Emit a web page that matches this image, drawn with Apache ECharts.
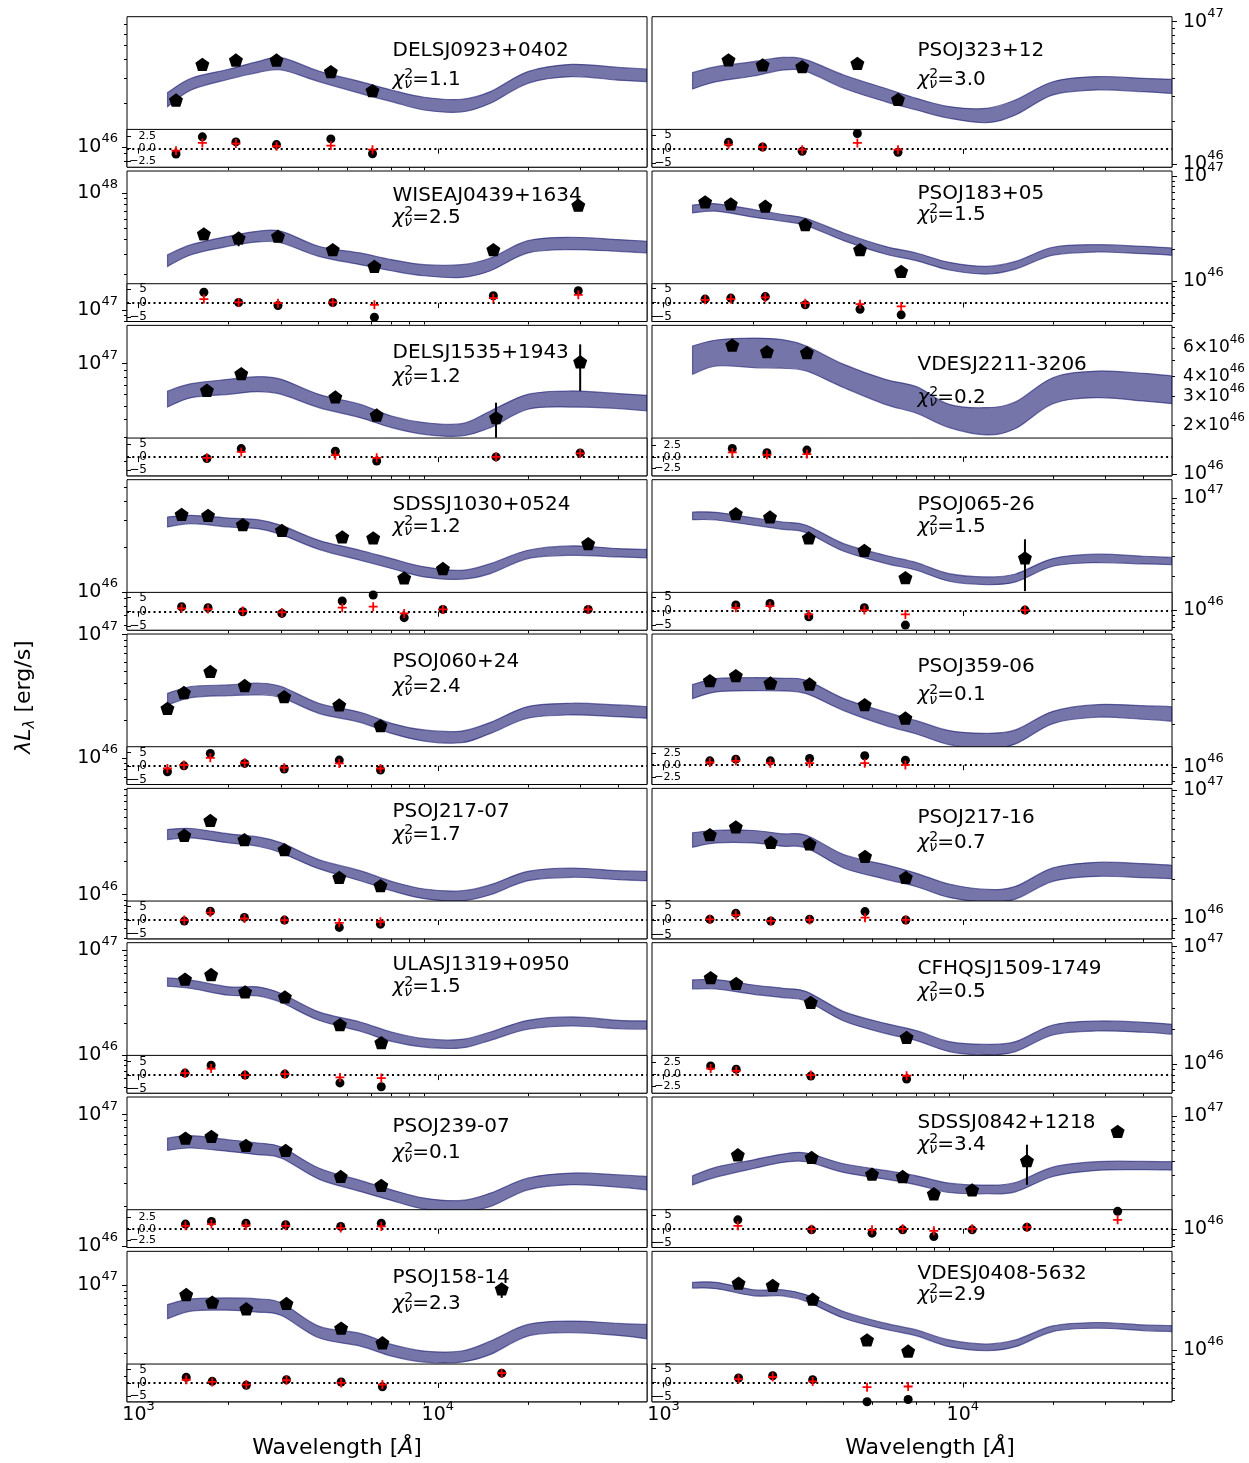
<!DOCTYPE html>
<html><head><meta charset="utf-8">
<script src="https://cdn.jsdelivr.net/npm/echarts@6/dist/echarts.min.js"></script>
<style>html,body{margin:0;padding:0;background:#fff}#c{width:1249px;height:1463px}</style>
</head><body><div id="c"></div>
<script>
// ---------------- DATA (log10 of lambda*L_lambda in erg/s; wavelengths in Angstrom) ----------------
const bandWave = [1250, 1500, 2000, 2500, 3000, 4000, 5500, 7000, 9000, 12000, 15000, 20000, 28000, 40000, 50000];

const DELSJ0923_bandHi = [46.375, 46.474, 46.536, 46.589, 46.616, 46.524, 46.451, 46.393, 46.343, 46.329, 46.382, 46.520, 46.570, 46.549, 46.538];
const DELSJ0923_bandLo = [46.278, 46.393, 46.467, 46.513, 46.531, 46.451, 46.370, 46.313, 46.255, 46.241, 46.301, 46.439, 46.485, 46.461, 46.451];
const DELSJ0923_wave = [1334, 1634, 2115, 2890, 4391, 6050];
const DELSJ0923_logL = [46.324, 46.570, 46.600, 46.600, 46.520, 46.389];
const DELSJ0923_errLo = [46.29, null, 46.56, null, null, null];
const DELSJ0923_errHi = [46.36, null, 46.64, null, null, null];
const DELSJ0923_resid = [-1.1, 2.43, 1.39, 0.83, 2.0, -1.04];
const DELSJ0923_model = [-0.42, 1.18, 1.04, 0.49, 0.63, -0.21];

const PSOJ323_bandHi = [46.642, 46.684, 46.719, 46.749, 46.731, 46.625, 46.532, 46.461, 46.403, 46.391, 46.450, 46.578, 46.614, 46.602, 46.595];
const PSOJ323_bandLo = [46.527, 46.578, 46.618, 46.660, 46.649, 46.532, 46.438, 46.379, 46.321, 46.290, 46.344, 46.485, 46.520, 46.508, 46.496];
const PSOJ323_wave = [1648, 2143, 2906, 4443, 6073];
const PSOJ323_logL = [46.731, 46.696, 46.684, 46.707, 46.454];
const PSOJ323_resid = [2.4, 0.7, -0.85, 5.6, -1.2];
const PSOJ323_model = [1.6, 0.7, -0.25, 2.2, -0.25];

const WISEAJ0439_bandHi = [47.471, 47.557, 47.629, 47.671, 47.671, 47.543, 47.486, 47.429, 47.386, 47.386, 47.443, 47.591, 47.620, 47.600, 47.586];
const WISEAJ0439_bandLo = [47.371, 47.471, 47.543, 47.580, 47.571, 47.457, 47.386, 47.334, 47.291, 47.277, 47.334, 47.486, 47.514, 47.500, 47.486];
const WISEAJ0439_wave = [1653, 2160, 2924, 4456, 6139, 15330, 29470];
const WISEAJ0439_logL = [47.649, 47.614, 47.629, 47.514, 47.371, 47.514, 47.894];
const WISEAJ0439_errLo = [null, 47.543, null, null, null, null, 47.843];
const WISEAJ0439_errHi = [null, 47.657, null, null, null, null, 47.929];
const WISEAJ0439_resid = [3.9, 0.24, -0.84, 0.24, -5.1, 2.65, 4.5];
const WISEAJ0439_model = [1.45, 0.24, 0, 0.24, -0.6, 1.8, 3.0];

const PSOJ183_bandHi = [46.724, 46.737, 46.683, 46.635, 46.597, 46.460, 46.333, 46.270, 46.181, 46.143, 46.190, 46.324, 46.349, 46.333, 46.317];
const PSOJ183_bandLo = [46.651, 46.667, 46.610, 46.571, 46.530, 46.387, 46.260, 46.197, 46.108, 46.070, 46.117, 46.248, 46.279, 46.263, 46.248];
const PSOJ183_wave = [1377, 1678, 2188, 2976, 4535, 6224];
const PSOJ183_logL = [46.756, 46.737, 46.714, 46.540, 46.302, 46.095];
const PSOJ183_resid = [1.2, 1.55, 2.1, -0.83, -2.4, -4.4];
const PSOJ183_model = [0.95, 1.2, 1.8, -0.24, -0.6, -1.4];

const DELSJ1535_bandHi = [46.805, 46.857, 46.888, 46.907, 46.888, 46.781, 46.710, 46.626, 46.579, 46.571, 46.662, 46.781, 46.805, 46.786, 46.774];
const DELSJ1535_bandLo = [46.690, 46.757, 46.781, 46.800, 46.781, 46.686, 46.614, 46.543, 46.495, 46.483, 46.543, 46.674, 46.690, 46.679, 46.662];
const DELSJ1535_wave = [1692, 2204, 4546, 6248, 15650, 29900];
const DELSJ1535_logL = [46.810, 46.929, 46.762, 46.633, 46.614, 47.014];
const DELSJ1535_errLo = [null, null, null, null, 46.471, 46.805];
const DELSJ1535_errHi = [null, null, null, null, 46.721, 47.138];
const DELSJ1535_resid = [-0.5, 3.25, 2.25, -1.5, 0.1, 1.6];
const DELSJ1535_model = [-0.25, 2.0, 0.75, -0.25, 0.1, 1.4];

const VDESJ2211_bandHi = [46.789, 46.826, 46.838, 46.828, 46.789, 46.676, 46.584, 46.539, 46.430, 46.410, 46.445, 46.594, 46.635, 46.621, 46.605];
const VDESJ2211_bandLo = [46.615, 46.666, 46.656, 46.652, 46.635, 46.533, 46.430, 46.375, 46.287, 46.242, 46.281, 46.434, 46.471, 46.451, 46.434];
const VDESJ2211_wave = [1697, 2215, 3013];
const VDESJ2211_logL = [46.795, 46.754, 46.748];
const VDESJ2211_resid = [1.87, 0.9, 1.5];
const VDESJ2211_model = [0.97, 0.45, 0.6];

const SDSSJ1030_bandHi = [46.500, 46.511, 46.493, 46.482, 46.444, 46.344, 46.278, 46.222, 46.167, 46.144, 46.189, 46.278, 46.307, 46.289, 46.284];
const SDSSJ1030_bandLo = [46.433, 46.456, 46.433, 46.422, 46.382, 46.284, 46.211, 46.156, 46.100, 46.084, 46.122, 46.222, 46.244, 46.233, 46.227];
const SDSSJ1030_wave = [1393, 1707, 2230, 3013, 4793, 6083, 7720, 10400, 31800];
const SDSSJ1030_logL = [46.518, 46.511, 46.449, 46.411, 46.367, 46.360, 46.093, 46.156, 46.322];
const SDSSJ1030_errLo = [null, null, null, null, null, null, 46.06, null, 46.29];
const SDSSJ1030_errHi = [null, null, null, null, null, null, 46.12, null, 46.35];
const SDSSJ1030_resid = [1.76, 1.41, 0, -0.59, 3.76, 5.9, -2.1, 0.8, 0.8];
const SDSSJ1030_model = [1.18, 0.94, 0.24, -0.24, 1.41, 1.76, -0.59, 0.8, 0.8];

const PSOJ065_bandHi = [46.875, 46.872, 46.822, 46.786, 46.757, 46.593, 46.490, 46.424, 46.326, 46.297, 46.323, 46.460, 46.499, 46.481, 46.472];
const PSOJ065_bandLo = [46.807, 46.804, 46.757, 46.721, 46.691, 46.525, 46.418, 46.356, 46.258, 46.228, 46.252, 46.392, 46.424, 46.412, 46.407];
const PSOJ065_wave = [1744, 2268, 3057, 4688, 6429, 16130];
const PSOJ065_logL = [46.861, 46.831, 46.644, 46.534, 46.291, 46.466];
const PSOJ065_errLo = [null, null, null, null, null, 46.17];
const PSOJ065_errHi = [null, null, null, null, null, 46.632];
const PSOJ065_resid = [2.2, 2.8, -2.1, 1.2, -5.1, 0.37];
const PSOJ065_model = [1.2, 1.8, -1.2, 0.37, -1.2, 0.37];

const PSOJ060_bandHi = [46.524, 46.579, 46.592, 46.606, 46.579, 46.443, 46.370, 46.280, 46.226, 46.217, 46.288, 46.416, 46.443, 46.429, 46.416];
const PSOJ060_bandLo = [46.429, 46.489, 46.505, 46.511, 46.489, 46.361, 46.288, 46.198, 46.136, 46.122, 46.198, 46.321, 46.348, 46.334, 46.321];
const PSOJ060_wave = [1249, 1418, 1737, 2263, 3067, 4685, 6433];
const PSOJ060_logL = [46.402, 46.530, 46.701, 46.587, 46.497, 46.429, 46.261];
const PSOJ060_resid = [-2.1, 0.1, 4.75, 1.0, -1.1, 2.25, -1.5];
const PSOJ060_model = [-0.9, 0.4, 3.1, 1.25, -0.6, 1.0, -0.9];

const PSOJ359_bandHi = [46.584, 46.626, 46.633, 46.628, 46.614, 46.485, 46.391, 46.329, 46.259, 46.240, 46.264, 46.395, 46.442, 46.435, 46.428];
const PSOJ359_bandLo = [46.485, 46.532, 46.541, 46.539, 46.520, 46.400, 46.296, 46.235, 46.160, 46.132, 46.165, 46.308, 46.353, 46.339, 46.325];
const PSOJ359_wave = [1428, 1744, 2275, 3076, 4701, 6429];
const PSOJ359_logL = [46.612, 46.647, 46.595, 46.588, 46.442, 46.348];
const PSOJ359_errLo = [46.57, null, null, null, null, null];
const PSOJ359_errHi = [46.65, null, null, null, null, null];
const PSOJ359_resid = [0.9, 1.25, 0.9, 1.4, 1.94, 1.04];
const PSOJ359_model = [0.56, 0.9, 0.42, 0.42, 0.42, 0.07];

const PSOJ217m07_bandHi = [46.591, 46.600, 46.552, 46.524, 46.470, 46.318, 46.218, 46.121, 46.052, 46.036, 46.091, 46.212, 46.242, 46.218, 46.212];
const PSOJ217m07_bandLo = [46.500, 46.515, 46.470, 46.439, 46.379, 46.236, 46.127, 46.036, 45.964, 45.945, 46.000, 46.127, 46.158, 46.136, 46.127];
const PSOJ217m07_wave = [1422, 1737, 2258, 3074, 4685, 6433];
const PSOJ217m07_logL = [46.539, 46.673, 46.500, 46.409, 46.158, 46.082];
const PSOJ217m07_errLo = [null, null, null, 46.37, null, null];
const PSOJ217m07_errHi = [null, null, null, 46.45, null, null];
const PSOJ217m07_resid = [-0.37, 3.3, 1.0, 0, -2.7, -1.5];
const PSOJ217m07_model = [0, 2.8, 0.6, 0, -1.0, -0.6];

const PSOJ217m16_bandHi = [46.668, 46.688, 46.686, 46.660, 46.649, 46.497, 46.419, 46.351, 46.267, 46.225, 46.249, 46.393, 46.437, 46.427, 46.414];
const PSOJ217m16_bandLo = [46.555, 46.589, 46.589, 46.563, 46.550, 46.393, 46.306, 46.246, 46.162, 46.126, 46.149, 46.288, 46.327, 46.317, 46.309];
const PSOJ217m16_wave = [1428, 1744, 2283, 3076, 4713, 6449];
const PSOJ217m16_logL = [46.654, 46.715, 46.594, 46.581, 46.484, 46.319];
const PSOJ217m16_resid = [0.23, 2.3, -0.35, 0.23, 2.9, 0];
const PSOJ217m16_model = [0.23, 1.7, -0.35, 0, 0.8, 0];

const ULASJ1319_bandHi = [46.737, 46.714, 46.651, 46.651, 46.587, 46.413, 46.317, 46.222, 46.159, 46.152, 46.222, 46.333, 46.365, 46.333, 46.327];
const ULASJ1319_bandLo = [46.657, 46.635, 46.571, 46.565, 46.502, 46.333, 46.229, 46.133, 46.079, 46.070, 46.143, 46.248, 46.279, 46.254, 46.248];
const ULASJ1319_wave = [1430, 1748, 2270, 3083, 4709, 6473];
const ULASJ1319_logL = [46.724, 46.768, 46.603, 46.556, 46.292, 46.121];
const ULASJ1319_resid = [0.73, 3.66, 0, 0.37, -2.9, -4.3];
const ULASJ1319_model = [0.73, 2.4, 0, 0.37, -0.85, -1.1];

const CFHQSJ1509_bandHi = [46.717, 46.720, 46.674, 46.646, 46.618, 46.448, 46.348, 46.286, 46.193, 46.170, 46.193, 46.334, 46.368, 46.357, 46.340];
const CFHQSJ1509_bandLo = [46.640, 46.640, 46.595, 46.567, 46.538, 46.368, 46.263, 46.201, 46.108, 46.079, 46.108, 46.249, 46.283, 46.272, 46.255];
const CFHQSJ1509_wave = [1437, 1749, 3105, 6489];
const CFHQSJ1509_logL = [46.737, 46.688, 46.527, 46.229];
const CFHQSJ1509_resid = [1.78, 1.1, -0.34, -0.96];
const CFHQSJ1509_model = [1.23, 0.75, -0.14, -0.27];

const PSOJ239_bandHi = [46.822, 46.840, 46.809, 46.784, 46.753, 46.593, 46.499, 46.427, 46.364, 46.346, 46.402, 46.517, 46.555, 46.542, 46.529];
const PSOJ239_bandLo = [46.728, 46.746, 46.720, 46.695, 46.669, 46.509, 46.415, 46.346, 46.280, 46.262, 46.300, 46.427, 46.466, 46.448, 46.427];
const PSOJ239_wave = [1435, 1752, 2285, 3102, 4738, 6473];
const PSOJ239_logL = [46.822, 46.835, 46.766, 46.728, 46.529, 46.461];
const PSOJ239_resid = [1.0, 1.57, 1.2, 0.86, 0.5, 1.2];
const PSOJ239_model = [0.64, 1.0, 0.7, 0.64, 0.14, 0.5];

const SDSSJ0842_bandHi = [46.473, 46.550, 46.615, 46.666, 46.675, 46.580, 46.521, 46.473, 46.408, 46.391, 46.414, 46.550, 46.598, 46.601, 46.598];
const SDSSJ0842_bandLo = [46.393, 46.462, 46.538, 46.592, 46.598, 46.503, 46.444, 46.393, 46.325, 46.314, 46.331, 46.467, 46.521, 46.527, 46.524];
const SDSSJ0842_wave = [1771, 3124, 4973, 6295, 8000, 10745, 16380, 32910];
const SDSSJ0842_logL = [46.660, 46.636, 46.488, 46.467, 46.314, 46.349, 46.607, 46.867];
const SDSSJ0842_errLo = [null, null, null, null, null, null, 46.393, null];
const SDSSJ0842_errHi = [null, null, null, null, null, null, 46.749, null];
const SDSSJ0842_resid = [3.25, -0.36, -1.57, -0.36, -2.77, -0.36, 0.6, 6.3];
const SDSSJ0842_model = [1.08, -0.12, -0.36, 0, -0.72, 0, 0.6, 3.25];

const PSOJ158_bandHi = [46.854, 46.897, 46.905, 46.897, 46.867, 46.687, 46.631, 46.546, 46.495, 46.495, 46.572, 46.700, 46.726, 46.708, 46.700];
const PSOJ158_bandLo = [46.744, 46.803, 46.810, 46.795, 46.769, 46.597, 46.533, 46.456, 46.410, 46.410, 46.469, 46.610, 46.636, 46.615, 46.590];
const PSOJ158_wave = [1443, 1763, 2291, 3121, 4753, 6529, 16350];
const PSOJ158_logL = [46.931, 46.872, 46.821, 46.862, 46.672, 46.559, 46.974];
const PSOJ158_errLo = [null, null, null, null, null, null, 46.905];
const PSOJ158_errHi = [null, null, null, null, null, null, 47.021];
const PSOJ158_resid = [2.1, 0.6, -0.85, 1.2, 0.37, -1.46, 3.66];
const PSOJ158_model = [1.2, 0.37, -0.6, 1.0, 0, -0.6, 3.66];

const VDESJ0408_bandHi = [46.532, 46.532, 46.474, 46.474, 46.434, 46.303, 46.211, 46.158, 46.079, 46.047, 46.079, 46.189, 46.216, 46.197, 46.192];
const VDESJ0408_bandLo = [46.487, 46.482, 46.426, 46.426, 46.382, 46.250, 46.163, 46.111, 46.026, 45.995, 46.026, 46.145, 46.171, 46.153, 46.145];
const VDESJ0408_wave = [1781, 2316, 3150, 4786, 6566];
const VDESJ0408_logL = [46.526, 46.508, 46.400, 46.079, 45.992];
const VDESJ0408_resid = [1.6, 2.4, 1.0, -6.9, -6.1];
const VDESJ0408_model = [1.2, 1.95, 0.37, -1.7, -1.46];

const xMajorTicks = [1000, 10000];
const xMinorTicks = [2000, 3000, 4000, 5000, 6000, 7000, 8000, 9000, 20000, 30000, 40000];

// ---------------- PANEL CONFIG ----------------
const panels = [
 {name:'DELSJ0923+0402', chi:'1.1', row:0, col:0, hi:DELSJ0923_bandHi, lo:DELSJ0923_bandLo, wave:DELSJ0923_wave, logL:DELSJ0923_logL, eLo:DELSJ0923_errLo, eHi:DELSJ0923_errHi, resid:DELSJ0923_resid, model:DELSJ0923_model, y:[45.860,46.899], r:[-3.82,3.96], step:2.5, nDy:34, cDy:63},
 {name:'PSOJ323+12', chi:'3.0', row:0, col:1, hi:PSOJ323_bandHi, lo:PSOJ323_bandLo, wave:PSOJ323_wave, logL:PSOJ323_logL, resid:PSOJ323_resid, model:PSOJ323_model, y:[45.977,47.035], r:[-6.59,7.07], step:5, nDy:34, cDy:63},
 {name:'WISEAJ0439+1634', chi:'2.5', row:1, col:0, hi:WISEAJ0439_bandHi, lo:WISEAJ0439_bandLo, wave:WISEAJ0439_wave, logL:WISEAJ0439_logL, eLo:WISEAJ0439_errLo, eHi:WISEAJ0439_errHi, resid:WISEAJ0439_resid, model:WISEAJ0439_model, y:[46.9,48.186], r:[-6.63,6.99], step:5, nDy:25, cDy:46.6},
 {name:'PSOJ183+05', chi:'1.5', row:1, col:1, hi:PSOJ183_bandHi, lo:PSOJ183_bandLo, wave:PSOJ183_wave, logL:PSOJ183_logL, resid:PSOJ183_resid, model:PSOJ183_model, y:[45.619,47.048], r:[-6.79,6.67], step:5, nDy:22.6, cDy:43.3},
 {name:'DELSJ1535+1943', chi:'1.2', row:2, col:0, hi:DELSJ1535_bandHi, lo:DELSJ1535_bandLo, wave:DELSJ1535_wave, logL:DELSJ1535_logL, eLo:DELSJ1535_errLo, eHi:DELSJ1535_errHi, resid:DELSJ1535_resid, model:DELSJ1535_model, y:[46.198,47.274], r:[-7.1,7.25], step:5, nDy:27.3, cDy:51.3},
 {name:'VDESJ2211-3206', chi:'0.2', row:2, col:1, hi:VDESJ2211_bandHi, lo:VDESJ2211_bandLo, wave:VDESJ2211_wave, logL:VDESJ2211_logL, resid:VDESJ2211_resid, model:VDESJ2211_model, y:[45.990,46.916], r:[-4.25,4.18], step:2.5, nDy:39, cDy:72.3, minorLabels:[2, 3, 4, 6]},
 {name:'SDSSJ1030+0524', chi:'1.2', row:3, col:0, hi:SDSSJ1030_bandHi, lo:SDSSJ1030_bandLo, wave:SDSSJ1030_wave, logL:SDSSJ1030_logL, eLo:SDSSJ1030_errLo, eHi:SDSSJ1030_errHi, resid:SDSSJ1030_resid, model:SDSSJ1030_model, y:[45.744,46.749], r:[-6.5,6.8], step:5, nDy:25.4, cDy:47.1},
 {name:'PSOJ065-26', chi:'1.5', row:3, col:1, hi:PSOJ065_bandHi, lo:PSOJ065_bandLo, wave:PSOJ065_wave, logL:PSOJ065_logL, eLo:PSOJ065_errLo, eHi:PSOJ065_errHi, resid:PSOJ065_resid, model:PSOJ065_model, y:[45.822,47.163], r:[-6.95,6.8], step:5, nDy:25.4, cDy:47.1},
 {name:'PSOJ060+24', chi:'2.4', row:4, col:0, hi:PSOJ060_bandHi, lo:PSOJ060_bandLo, wave:PSOJ060_wave, logL:PSOJ060_logL, resid:PSOJ060_resid, model:PSOJ060_model, y:[45.783,47.005], r:[-6.9,7.25], step:5, nDy:27.8, cDy:52.8},
 {name:'PSOJ359-06', chi:'0.1', row:4, col:1, hi:PSOJ359_bandHi, lo:PSOJ359_bandLo, wave:PSOJ359_wave, logL:PSOJ359_logL, eLo:PSOJ359_errLo, eHi:PSOJ359_errHi, resid:PSOJ359_resid, model:PSOJ359_model, y:[45.878,46.941], r:[-3.96,3.8], step:2.5, nDy:32.8, cDy:61.1},
 {name:'PSOJ217-07', chi:'1.7', row:5, col:0, hi:PSOJ217m07_bandHi, lo:PSOJ217m07_bandLo, wave:PSOJ217m07_wave, logL:PSOJ217m07_logL, eLo:PSOJ217m07_errLo, eHi:PSOJ217m07_errHi, resid:PSOJ217m07_resid, model:PSOJ217m07_model, y:[45.6,46.964], r:[-6.95,7.07], step:5, nDy:23.5, cDy:46.8},
 {name:'PSOJ217-16', chi:'0.7', row:5, col:1, hi:PSOJ217m16_bandHi, lo:PSOJ217m16_bandLo, wave:PSOJ217m16_wave, logL:PSOJ217m16_logL, resid:PSOJ217m16_resid, model:PSOJ217m16_model, y:[45.838,47.016], r:[-6.55,6.55], step:5, nDy:29.1, cDy:54.1},
 {name:'ULASJ1319+0950', chi:'1.5', row:6, col:0, hi:ULASJ1319_bandHi, lo:ULASJ1319_bandLo, wave:ULASJ1319_wave, logL:ULASJ1319_logL, resid:ULASJ1319_resid, model:ULASJ1319_model, y:[45.641,47.070], r:[-6.7,7.3], step:5, nDy:22.5, cDy:44.2},
 {name:'CFHQSJ1509-1749', chi:'0.5', row:6, col:1, hi:CFHQSJ1509_bandHi, lo:CFHQSJ1509_bandLo, wave:CFHQSJ1509_wave, logL:CFHQSJ1509_logL, resid:CFHQSJ1509_resid, model:CFHQSJ1509_model, y:[45.754,47.034], r:[-3.9,3.97], step:2.5, nDy:25.8, cDy:49.2},
 {name:'PSOJ239-07', chi:'0.1', row:7, col:0, hi:PSOJ239_bandHi, lo:PSOJ239_bandLo, wave:PSOJ239_wave, logL:PSOJ239_logL, resid:PSOJ239_resid, model:PSOJ239_model, y:[45.987,47.135], r:[-4.0,4.07], step:2.5, nDy:29.4, cDy:56.1},
 {name:'SDSSJ0842+1218', chi:'3.4', row:7, col:1, hi:SDSSJ0842_bandHi, lo:SDSSJ0842_bandLo, wave:SDSSJ0842_wave, logL:SDSSJ0842_logL, eLo:SDSSJ0842_errLo, eHi:SDSSJ0842_errHi, resid:SDSSJ0842_resid, model:SDSSJ0842_model, y:[45.837,47.172], r:[-6.75,6.9], step:5, nDy:25.4, cDy:47.8},
 {name:'PSOJ158-14', chi:'2.3', row:8, col:0, hi:PSOJ158_bandHi, lo:PSOJ158_bandLo, wave:PSOJ158_wave, logL:PSOJ158_logL, eLo:PSOJ158_errLo, eHi:PSOJ158_errHi, resid:PSOJ158_resid, model:PSOJ158_model, y:[46.103,47.264], r:[-7.07,7.07], step:5, nDy:26.6, cDy:52.5},
 {name:'VDESJ0408-5632', chi:'2.9', row:8, col:1, hi:VDESJ0408_bandHi, lo:VDESJ0408_bandLo, wave:VDESJ0408_wave, logL:VDESJ0408_logL, resid:VDESJ0408_resid, model:VDESJ0408_model, y:[45.592,46.776], r:[-6.95,6.6], step:5, nDy:22.8, cDy:43.5}
];

// ---------------- LAYOUT / STYLE ----------------
const COLX = [127, 652], GW = 520, T0 = 16.7, PITCH = 154.33, MAIN_H = 150.5, RES_OFF = 112.7, RES_H = 37.8;
const XMIN = 915, XMAX = 50000;
const FONT = 'DejaVu Sans';
const BAND_FILL = 'rgba(25,25,112,0.6)';
const PENT = 'path://M0,-1L0.9511,-0.309L0.5878,0.809L-0.5878,0.809L-0.9511,-0.309Z';
const PLUS = 'path://M-1,-0.2L-0.2,-0.2L-0.2,-1L0.2,-1L0.2,-0.2L1,-0.2L1,0.2L0.2,0.2L0.2,1L-0.2,1L-0.2,0.2L-1,0.2Z';
const supRich = {
  b: {fontSize: 19, fontFamily: FONT, color: '#000', lineHeight: 19},
  s: {fontSize: 13, fontFamily: FONT, color: '#000', lineHeight: 13, padding: [0, 0, 17, 0]},
  mb: {fontSize: 17, fontFamily: FONT, color: '#000', lineHeight: 17},
  ms: {fontSize: 12, fontFamily: FONT, color: '#000', lineHeight: 12, padding: [0, 0, 15, 0]}
};
function powLabel(v) {
  const n = Math.floor(v + 1e-9);
  const m = Math.round(Math.pow(10, v - n));
  return m === 1 ? '{b|10}{s|' + n + '}' : '{mb|' + m + '\u00d710}{ms|' + n + '}';
}
function logTicks(min, max) {
  const maj = [], mnr = [];
  for (let n = Math.floor(min); n <= Math.ceil(max); n++) {
    if (n >= min && n <= max) maj.push(n);
    for (let k = 2; k <= 9; k++) { const v = n + Math.log10(k); if (v >= min && v <= max) mnr.push(v); }
  }
  return {maj, mnr};
}
function residLabel(v, step) {
  const s = step === 2.5 ? v.toFixed(1) : String(v);
  return s.replace('-', '\u2212');
}
// Catmull-Rom -> cubic Bezier path segments through pixel points
function crSegments(P) {
  let s = '';
  for (let i = 0; i < P.length - 1; i++) {
    const p0 = P[Math.max(i - 1, 0)], p1 = P[i], p2 = P[i + 1], p3 = P[Math.min(i + 2, P.length - 1)];
    const c1 = [p1[0] + (p2[0] - p0[0]) / 6, p1[1] + (p2[1] - p0[1]) / 6];
    const c2 = [p2[0] - (p3[0] - p1[0]) / 6, p2[1] - (p3[1] - p1[1]) / 6];
    s += 'C' + c1[0].toFixed(2) + ',' + c1[1].toFixed(2) + ',' + c2[0].toFixed(2) + ',' + c2[1].toFixed(2) + ',' + p2[0].toFixed(2) + ',' + p2[1].toFixed(2);
  }
  return s;
}

const grid = [], xAxis = [], yAxis = [], series = [], graphic = [];

panels.forEach((p, i) => {
  const left = COLX[p.col], top = T0 + PITCH * p.row;
  const right = p.col === 1;
  const gMain = grid.length;
  grid.push({left: left, top: top, width: GW, height: MAIN_H, show: true, borderColor: '#000', borderWidth: 1, backgroundColor: 'rgba(0,0,0,0)'});
  const gRes = grid.length;
  grid.push({left: left, top: top + RES_OFF, width: GW, height: RES_H, show: true, borderColor: '#000', borderWidth: 1, backgroundColor: '#fff', z: 5});

  // main axes
  const xm = xAxis.length;
  xAxis.push({type: 'log', logBase: 10, gridIndex: gMain, min: XMIN, max: XMAX, show: false});
  const t = logTicks(p.y[0], p.y[1]);
  const labelVals = t.maj.slice();
  if (p.minorLabels) {
    const base = Math.ceil(p.y[0]);
    p.minorLabels.forEach(k => { const v = base + Math.log10(k); if (v >= p.y[0] && v <= p.y[1]) labelVals.push(v); });
  }
  const ym = yAxis.length;
  yAxis.push({type: 'value', gridIndex: gMain, min: p.y[0], max: p.y[1], position: right ? 'right' : 'left',
    axisLine: {show: false}, splitLine: {show: false},
    axisTick: {show: true, length: 5, lineStyle: {color: '#000', width: 1}, customValues: t.maj},
    axisLabel: {show: true, customValues: labelVals, margin: right ? 11 : 9, formatter: powLabel, rich: supRich, color: '#000',
      showMinLabel: true, showMaxLabel: true, hideOverlap: false}});
  yAxis.push({type: 'value', gridIndex: gMain, min: p.y[0], max: p.y[1], position: right ? 'right' : 'left',
    axisLine: {show: false}, splitLine: {show: false},
    axisTick: {show: true, length: 3, lineStyle: {color: '#000', width: 1}, customValues: t.mnr},
    axisLabel: {show: false}});

  // residual axes
  const xr = xAxis.length;
  const bottomRow = p.row === 8;
  xAxis.push({type: 'log', logBase: 10, gridIndex: gRes, min: XMIN, max: XMAX, position: 'bottom', z: 6,
    axisLine: {show: false}, splitLine: {show: false},
    axisTick: {show: true, length: 5, lineStyle: {color: '#000', width: 1}, customValues: xMajorTicks},
    axisLabel: {show: bottomRow, customValues: xMajorTicks, margin: 4, rich: supRich, color: '#000',
      showMinLabel: true, showMaxLabel: true,
      formatter: v => '{b|10}{s|' + Math.round(Math.log10(v)) + '}'}});
  xAxis.push({type: 'log', logBase: 10, gridIndex: gRes, min: XMIN, max: XMAX, position: 'bottom', z: 6,
    axisLine: {show: false}, splitLine: {show: false},
    axisTick: {show: true, length: 3, lineStyle: {color: '#000', width: 1}, customValues: xMinorTicks},
    axisLabel: {show: false}});
  const yr = yAxis.length;
  const rv = [-p.step, 0, p.step];
  const fine = p.step === 2.5;
  yAxis.push({type: 'value', gridIndex: gRes, min: p.r[0], max: p.r[1], position: 'left', z: 6,
    axisLine: {show: false}, splitLine: {show: false},
    axisTick: {show: true, inside: true, length: 4, lineStyle: {color: '#000', width: 1}, customValues: rv},
    axisLabel: {show: true, inside: true, customValues: rv, align: 'right', margin: fine ? 29 : 20,
      fontSize: fine ? 11 : 12, lineHeight: 8, fontFamily: FONT, color: '#000', formatter: v => residLabel(v, p.step),
      showMinLabel: true, showMaxLabel: true, hideOverlap: false}});

  // model band: closed smooth polygon between bandLo and bandHi
  series.push({type: 'custom', xAxisIndex: xm, yAxisIndex: ym, z: 2, silent: true, clip: true,
    encode: {x: 0, y: 1}, data: [[bandWave[0], p.lo[0]]],
    renderItem: (params, api) => {
      const topPts = bandWave.map((w, k) => api.coord([w, p.hi[k]]));
      const botPts = bandWave.map((w, k) => api.coord([w, p.lo[k]])).reverse();
      const d = 'M' + topPts[0][0].toFixed(2) + ',' + topPts[0][1].toFixed(2) + crSegments(topPts) +
                'L' + botPts[0][0].toFixed(2) + ',' + botPts[0][1].toFixed(2) + crSegments(botPts) + 'Z';
      return {type: 'path', shape: {pathData: d}, style: {fill: BAND_FILL, stroke: BAND_FILL, lineWidth: 1.2}};
    }});

  // error bars
  if (p.eLo) {
    const ed = [];
    p.wave.forEach((w, k) => { if (p.eLo[k] != null) ed.push([w, p.eLo[k], p.eHi[k]]); });
    series.push({type: 'custom', xAxisIndex: xm, yAxisIndex: ym, z: 3, silent: true, encode: {x: 0, y: [1, 2]},
      data: ed,
      renderItem: (params, api) => {
        const a = api.coord([api.value(0), api.value(1)]);
        const b = api.coord([api.value(0), api.value(2)]);
        return {type: 'line', shape: {x1: a[0], y1: a[1], x2: b[0], y2: b[1]}, style: {stroke: '#000', lineWidth: 2}};
      }});
  }
  // photometry points
  series.push({type: 'scatter', xAxisIndex: xm, yAxisIndex: ym, z: 4, silent: true, symbol: PENT, symbolSize: [14, 13.3],
    itemStyle: {color: '#000', opacity: 1}, data: p.wave.map((w, k) => [w, p.logL[k]])});

  // residuals
  series.push({type: 'scatter', xAxisIndex: xr, yAxisIndex: yr, z: 7, silent: true, clip: true, symbol: 'circle', symbolSize: 9,
    itemStyle: {color: '#000', opacity: 1}, data: p.wave.map((w, k) => [w, p.resid[k]]),
    markLine: {silent: true, z: 6, symbol: 'none', label: {show: false}, animation: false,
      lineStyle: {color: '#000', type: [2, 3.3], width: 2, opacity: 1}, data: [{yAxis: 0}]}});
  series.push({type: 'scatter', xAxisIndex: xr, yAxisIndex: yr, z: 8, silent: true, clip: true, symbol: PLUS, symbolSize: 9,
    itemStyle: {color: '#ff0000', opacity: 1}, data: p.wave.map((w, k) => [w, p.model[k]])});

  // texts
  graphic.push({type: 'text', x: left + 265.5, y: top + p.nDy, z: 20, silent: true,
    style: {text: p.name, fontSize: 20, fontFamily: FONT, fill: '#000', align: 'left', verticalAlign: 'middle'}});
  graphic.push({type: 'text', x: left + 265.5, y: top + p.cDy, z: 20, silent: true,
    style: {text: '{c|\u03c7}{p|2}{q|\u03bd}{e|=' + p.chi + '}', fill: '#000', align: 'left', verticalAlign: 'middle',
      rich: {
        c: {fontSize: 20, fontFamily: FONT, fontStyle: 'italic', lineHeight: 24, verticalAlign: 'middle', fill: '#000'},
        p: {fontSize: 14, fontFamily: FONT, lineHeight: 10, verticalAlign: 'top', width: 0, fill: '#000'},
        q: {fontSize: 14, fontFamily: FONT, fontStyle: 'italic', lineHeight: 17, verticalAlign: 'bottom', fill: '#000'},
        e: {fontSize: 20, fontFamily: FONT, lineHeight: 24, verticalAlign: 'middle', fill: '#000'}
      }}});
});

// axis titles
[337, 930].forEach(cx => {
  graphic.push({type: 'text', x: cx, y: 1448, z: 20, silent: true,
    style: {text: '{t|Wavelength [}{a|\u00c5}{t|]}', align: 'center', verticalAlign: 'middle', fill: '#000',
      rich: {t: {fontSize: 22, fontFamily: FONT, fill: '#000', lineHeight: 28},
             a: {fontSize: 22, fontFamily: FONT, fontStyle: 'italic', fill: '#000', lineHeight: 28}}}});
});
graphic.push({type: 'text', x: 24, y: 697, rotation: Math.PI / 2, z: 20, silent: true,
  style: {text: '{i|\u03bbL}{s|\u03bb}{t| [erg/s]}', align: 'center', verticalAlign: 'middle', fill: '#000',
    rich: {i: {fontSize: 22, fontFamily: FONT, fontStyle: 'italic', fill: '#000', lineHeight: 28, verticalAlign: 'middle'},
           s: {fontSize: 15, fontFamily: FONT, fontStyle: 'italic', fill: '#000', lineHeight: 20, verticalAlign: 'bottom'},
           t: {fontSize: 22, fontFamily: FONT, fill: '#000', lineHeight: 28, verticalAlign: 'middle'}}}});

const chart = echarts.init(document.getElementById('c'), null, {renderer: 'canvas'});
chart.setOption({animation: false, backgroundColor: '#fff', grid, xAxis, yAxis, series, graphic});
</script>
</body></html>
